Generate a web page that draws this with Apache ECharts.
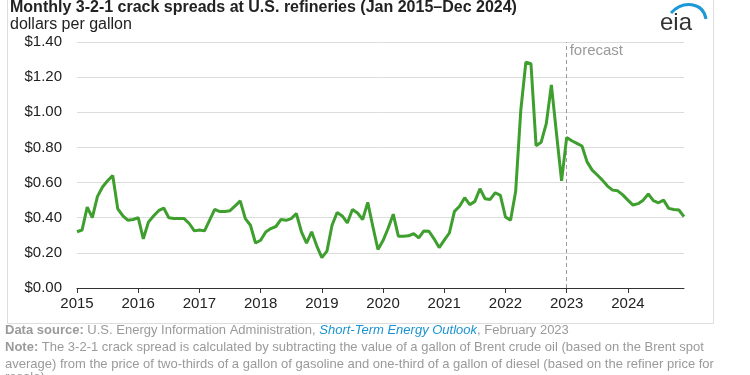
<!DOCTYPE html>
<html>
<head>
<meta charset="utf-8">
<script src="https://cdn.jsdelivr.net/npm/echarts@6/dist/echarts.min.js"></script>
<style>
html,body{margin:0;padding:0;background:#fff;}
#chart{width:750px;height:375px;}
</style>
</head>
<body>
<div id="chart"></div>
<script>
// Monthly 3-2-1 crack spread, dollars per gallon
var years = [2015, 2016, 2017, 2018, 2019, 2020, 2021, 2022, 2023, 2024];
var y2015 = [0.32, 0.33, 0.46, 0.40, 0.52, 0.575, 0.61, 0.64, 0.45, 0.41, 0.385, 0.39];
var y2016 = [0.40, 0.28, 0.375, 0.41, 0.44, 0.455, 0.40, 0.395, 0.395, 0.395, 0.367, 0.325];
var y2017 = [0.33, 0.325, 0.386, 0.447, 0.435, 0.435, 0.44, 0.467, 0.496, 0.395, 0.357, 0.256];
var y2018 = [0.272, 0.319, 0.338, 0.35, 0.39, 0.385, 0.395, 0.424, 0.32, 0.256, 0.32, 0.24];
var y2019 = [0.173, 0.21, 0.357, 0.43, 0.41, 0.37, 0.447, 0.427, 0.39, 0.487, 0.35, 0.219];
var y2020 = [0.27, 0.34, 0.42, 0.295, 0.295, 0.297, 0.31, 0.285, 0.325, 0.323, 0.28, 0.23];
var y2021 = [0.272, 0.313, 0.436, 0.465, 0.514, 0.474, 0.493, 0.565, 0.508, 0.504, 0.542, 0.527];
var y2022 = [0.404, 0.385, 0.55, 1.01, 1.285, 1.276, 0.81, 0.83, 0.935, 1.156, 0.88, 0.61];
var y2023 = [0.857, 0.838, 0.823, 0.808, 0.718, 0.671, 0.643, 0.614, 0.58, 0.557, 0.553, 0.53];
var y2024 = [0.50, 0.472, 0.48, 0.50, 0.535, 0.497, 0.485, 0.50, 0.453, 0.447, 0.444, 0.406];
var forecastStart = '2023-01';
var yTicks = [0, 0.2, 0.4, 0.6, 0.8, 1.0, 1.2, 1.4];

var months = ['01','02','03','04','05','06','07','08','09','10','11','12'];
var categories = [];
years.forEach(function (y) { months.forEach(function (m) { categories.push(y + '-' + m); }); });
var values = [].concat(y2015, y2016, y2017, y2018, y2019, y2020, y2021, y2022, y2023, y2024);

var FONT = '"Liberation Sans", Arial, Helvetica, sans-serif';
var chart = echarts.init(document.getElementById('chart'), null, {renderer: 'canvas'});

var option = {
  animation: false,
  backgroundColor: '#fff',
  textStyle: {fontFamily: FONT},
  grid: {left: 77, right: 66, top: 42, bottom: 87, containLabel: false},
  xAxis: {
    type: 'category',
    data: categories,
    boundaryGap: false,
    axisLine: {lineStyle: {color: '#333', width: 1}},
    axisTick: {show: true, length: 5, lineStyle: {color: '#333'},
      interval: function (i) { return i % 12 === 0; }},
    axisLabel: {interval: function (i) { return i % 12 === 0; },
      formatter: function (v) { return v.slice(0, 4); },
      fontSize: 15, color: '#222', margin: 8, fontFamily: FONT},
    splitLine: {show: false}
  },
  yAxis: {
    type: 'value', min: yTicks[0], max: yTicks[yTicks.length - 1], interval: 0.2,
    axisLine: {show: false}, axisTick: {show: false},
    axisLabel: {formatter: function (v) { return '$' + v.toFixed(2); },
      fontSize: 15, color: '#222', margin: 15, fontFamily: FONT},
    splitLine: {lineStyle: {color: '#dcdcdc', width: 1}}
  },
  series: [{
    type: 'line', data: values, showSymbol: false, symbol: 'none',
    lineStyle: {color: '#3e9f2e', width: 3}, z: 5,
    markLine: {
      silent: true, symbol: 'none', label: {show: false},
      lineStyle: {color: '#9a9a9a', type: [4, 3], width: 1},
      data: [{xAxis: forecastStart}]
    }
  }]
};
chart.setOption(option);

var fx = chart.convertToPixel({xAxisIndex: 0}, forecastStart);
var topY = chart.convertToPixel({yAxisIndex: 0}, yTicks[yTicks.length - 1]);

chart.setOption({
  graphic: [
    {type: 'rect', shape: {x: 7.5, y: -2, width: 706, height: 325.5},
      style: {fill: 'none', stroke: '#dddddd', lineWidth: 1}, z: 0, silent: true},
    {type: 'text', left: 10, top: 0,
      style: {text: 'Monthly 3-2-1 crack spreads at U.S. refineries (Jan 2015\u2013Dec 2024)',
        font: 'bold 16px ' + FONT, fill: '#222'}},
    {type: 'text', left: 10, top: 17,
      style: {text: 'dollars per gallon', font: '16px ' + FONT, fill: '#222'}},
    {type: 'text', x: fx + 3, y: topY + 1,
      style: {text: 'forecast', font: '15px ' + FONT, fill: '#9a9a9a'}},
    {type: 'text', x: 660, y: 11,
      style: {text: 'eia', font: '24px ' + FONT, fill: '#333'}},
    {type: 'bezierCurve', shape: {x1: 671, y1: 13, x2: 706, y2: 19, cpx1: 683, cpy1: 0, cpx2: 703, cpy2: 2},
      style: {stroke: '#1b98d5', lineWidth: 3, fill: 'none'}},
    {type: 'text', left: 5, top: 324,
      style: {
        rich: {
          b: {font: 'bold 13px ' + FONT, fill: '#9a9a9a'},
          n: {font: '13px ' + FONT, fill: '#9a9a9a'},
          i: {font: 'italic 13px ' + FONT, fill: '#1a93d0'}
        },
        text: '{b|Data source:}{n| U.S. Energy Information Administration, }{i|Short-Term Energy Outlook}{n|, February 2023}'
      }},
    {type: 'text', left: 5, top: 341,
      style: {
        rich: {
          b: {font: 'bold 13px ' + FONT, fill: '#9a9a9a'},
          n: {font: '13px ' + FONT, fill: '#9a9a9a'}
        },
        text: '{b|Note:}{n| The 3-2-1 crack spread is calculated by subtracting the value of a gallon of Brent crude oil (based on the Brent spot}'
      }},
    {type: 'text', left: 5, top: 358,
      style: {text: 'average) from the price of two-thirds of a gallon of gasoline and one-third of a gallon of diesel (based on the refiner price for',
        font: '13px ' + FONT, fill: '#9a9a9a'}},
    {type: 'text', x: 5, y: 371,
      style: {text: 'resale)', font: '13px ' + FONT, fill: '#9a9a9a'}}
  ]
});
</script>
</body>
</html>
